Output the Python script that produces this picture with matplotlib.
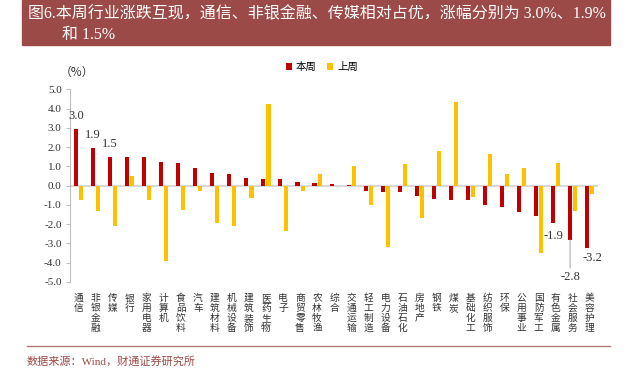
import numpy as np
import matplotlib
matplotlib.use("Agg")
import matplotlib.pyplot as plt
from matplotlib.patches import Rectangle
from matplotlib.lines import Line2D

# ======================
# |       DATA         |
# ======================
industries = ["通信", "非银金融", "传媒", "银行", "家用电器", "计算机", "食品饮料", "汽车",
              "建筑材料", "机械设备", "建筑装饰", "医药生物", "电子", "商贸零售", "农林牧渔",
              "综合", "交通运输", "轻工制造", "电力设备", "石油石化", "房地产", "钢铁", "煤炭",
              "基础化工", "纺织服饰", "环保", "公用事业", "国防军工", "有色金属", "社会服务", "美容护理"]

this_week = [2.95, 1.93, 1.49, 1.49, 1.48, 1.21, 1.17, 0.90, 0.66, 0.59, 0.41, 0.35, 0.33,
             0.17, 0.14, 0.09, 0.01, -0.28, -0.31, -0.33, -0.52, -0.71, -0.74, -0.76, -0.98,
             -1.12, -1.35, -1.55, -1.95, -2.83, -3.25]

last_week = [-0.73, -1.30, -2.11, 0.52, -0.73, -3.92, -1.26, -0.29, -1.92, -2.07, -0.62, 4.23,
             -2.33, -0.26, 0.59, -0.04, 1.02, -0.98, -3.16, 1.11, -1.66, 1.80, 4.34, -0.57,
             1.66, 0.59, 0.90, -3.52, 1.16, -1.33, -0.41]

# labelled bars: index -> text
top_labels = {0: "3.0", 1: "1.9", 2: "1.5"}
bottom_labels = {28: "-1.9", 29: "-2.8", 30: "-3.2"}

title_line1 = "图6.本周行业涨跌互现，通信、非银金融、传媒相对占优，涨幅分别为 3.0%、1.9%"
title_line2 = "和 1.5%"
source_text = "数据来源：Wind，财通证券研究所"

# ======================
# |      STYLE         |
# ======================
RED = "#C00000"
YELLOW = "#FFC000"
BANNER = "#9B4A47"
CJK = ["Noto Sans CJK SC", "DejaVu Sans"]
SERIF = ["Liberation Serif", "Noto Sans CJK SC"]

plt.rcParams["font.family"] = CJK

fig = plt.figure(figsize=(6.38, 3.78), dpi=100)
ax = fig.add_axes([0.1097, 0.254, 0.828, 0.5098])

x = np.arange(len(industries))
w = 0.24
ax.bar(x - 0.15, this_week, width=w, color=RED, label="本周", zorder=3)
ax.bar(x + 0.15, last_week, width=w, color=YELLOW, label="上周", zorder=3)

ax.axhline(0, color="#D9D9D9", lw=1.5, zorder=2)
ax.set_xlim(-0.5, len(industries) - 0.5)
ax.set_ylim(-5, 5)
ax.set_yticks(np.arange(-5, 5.1, 1))
ax.set_yticklabels([f"{v:.1f}" for v in np.arange(-5, 5.1, 1)], family=SERIF, fontsize=8,
                   color="#333333")

for s in ["top", "right", "bottom"]:
    ax.spines[s].set_visible(False)
ax.spines["left"].set_color("#BFBFBF")
ax.tick_params(axis="y", length=3, color="#BFBFBF", pad=3)

ax.set_xticks(x)
ax.set_xticklabels(["\n".join(n) for n in industries], fontsize=7, color="#333333",
                   va="top", linespacing=0.98)
ax.tick_params(axis="x", length=0, pad=8)

# data labels
for i, t in top_labels.items():
    ax.annotate(t, (x[i] - 0.15, this_week[i]), xytext=(0, 5), textcoords="offset points",
                ha="center", va="bottom", family=SERIF, fontsize=9, color="#333333")
ax.annotate(bottom_labels[28], (x[28] - 0.15, this_week[28]), xytext=(0, -5),
            textcoords="offset points", ha="center", va="top", family=SERIF, fontsize=9,
            color="#333333")
ax.annotate(bottom_labels[29], (x[29] - 0.15, this_week[29]), xytext=(0, -22),
            textcoords="offset points", ha="center", va="top", family=SERIF, fontsize=9,
            color="#333333",
            arrowprops=dict(arrowstyle="-", color="#BFBFBF", lw=1, shrinkA=0, shrinkB=0))
ax.annotate(bottom_labels[30], (x[30] - 0.15, this_week[30]), xytext=(4, -3),
            textcoords="offset points", ha="center", va="top", family=SERIF, fontsize=9,
            color="#333333")

# legend
ax.legend(loc="lower center", bbox_to_anchor=(0.477, 1.04), ncol=2, frameon=False,
          fontsize=7.5, handlelength=0.6, handleheight=0.6, handletextpad=0.4,
          columnspacing=1.0)

# (%) unit
fig.text(60 / 638, 1 - 72 / 378, "（%）", fontsize=8.5, ha="left", va="center",
         color="#333333")

# title banner
fig.patches.append(Rectangle((22 / 638, 1 - 45 / 378), 588 / 638, 45 / 378,
                             transform=fig.transFigure, color=BANNER, zorder=0))
fig.text(28 / 638, 1 - 14 / 378, title_line1, color="white", fontsize=11.5, va="center",
         ha="left", family=SERIF)
fig.text(62 / 638, 1 - 35 / 378, title_line2, color="white", fontsize=11.5, va="center",
         ha="left", family=SERIF)

# source line and text
fig.add_artist(Line2D([27 / 638, 610 / 638], [1 - 346 / 378, 1 - 346 / 378],
                      transform=fig.transFigure, color="#B07A78", lw=1))
fig.text(27 / 638, 1 - 361 / 378, source_text, color="#9B4A47", fontsize=8, va="center",
         ha="left", family=SERIF)

fig.savefig("out.png", dpi=100)
